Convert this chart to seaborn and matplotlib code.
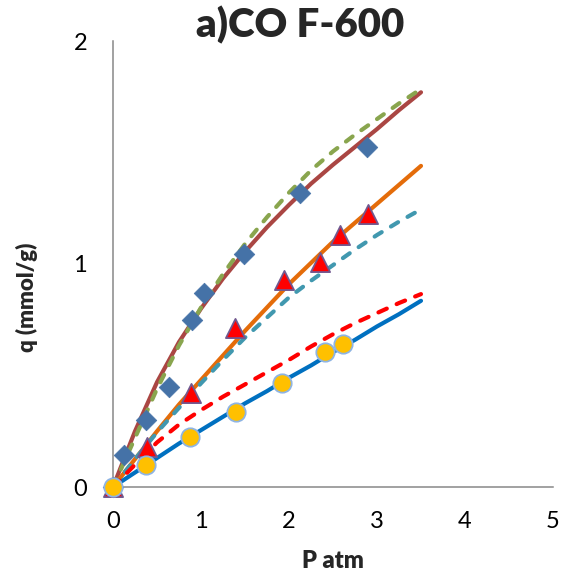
import matplotlib
matplotlib.use("Agg")
import matplotlib.pyplot as plt
import seaborn as sns

# Measured isotherm points (P in atm, q in mmol/g)
p_diamond = [0.0, 0.12, 0.37, 0.64, 0.90, 1.03, 1.49, 2.12, 2.89]
q_diamond = [0.0, 0.145, 0.30, 0.45, 0.75, 0.87, 1.045, 1.32, 1.525]

p_triangle = [0.0, 0.39, 0.89, 1.39, 1.94, 2.35, 2.58, 2.90]
q_triangle = [0.0, 0.18, 0.42, 0.715, 0.93, 1.01, 1.13, 1.225]

p_circle = [0.0, 0.375, 0.875, 1.40, 1.92, 2.41, 2.61]
q_circle = [0.0, 0.10, 0.225, 0.336, 0.466, 0.605, 0.641]

# Model curves
p_fit = [0.0, 0.25, 0.5, 0.75, 1.0, 1.25, 1.5, 1.75, 2.0, 2.25, 2.5, 2.75,
         3.0, 3.25, 3.5]
q_fit_brown = [0.0, 0.25, 0.47, 0.65, 0.80, 0.935, 1.055, 1.165, 1.265,
               1.36, 1.445, 1.525, 1.605, 1.69, 1.77]
q_fit_green = [0.0, 0.22, 0.44, 0.635, 0.805, 0.955, 1.09, 1.21, 1.32,
               1.42, 1.505, 1.58, 1.65, 1.72, 1.785]
q_fit_orange = [0.0, 0.125, 0.25, 0.37, 0.48, 0.59, 0.70, 0.805, 0.91,
                1.005, 1.10, 1.185, 1.27, 1.355, 1.44]
q_fit_teal = [0.0, 0.125, 0.245, 0.355, 0.465, 0.57, 0.67, 0.76, 0.85,
              0.925, 0.995, 1.065, 1.13, 1.19, 1.245]
q_fit_red = [0.0, 0.10, 0.20, 0.28, 0.345, 0.405, 0.46, 0.515, 0.57,
             0.63, 0.685, 0.735, 0.78, 0.825, 0.865]
q_fit_blue = [0.0, 0.065, 0.13, 0.195, 0.255, 0.315, 0.375, 0.43, 0.49,
              0.545, 0.605, 0.66, 0.72, 0.775, 0.835]

x_ticks = [0, 1, 2, 3, 4, 5]
y_ticks = [0, 1, 2]

sns.set_style("white")
plt.rcParams["font.family"] = ["Lato", "DejaVu Sans"]

fig = plt.figure(figsize=(5.63, 5.81), dpi=100)
ax = fig.add_axes([113 / 563, 94 / 581, 440 / 563, 446 / 581])

lw = 3.0
dash = (0, (2.0, 2.6))

sns.lineplot(x=p_fit, y=q_fit_brown, ax=ax, color="#AA4643", lw=lw,
             solid_capstyle="round", zorder=2)
sns.lineplot(x=p_fit, y=q_fit_green, ax=ax, color="#89A54E", lw=lw,
             linestyle=dash, dash_capstyle="round", zorder=2.1)
sns.lineplot(x=p_fit, y=q_fit_orange, ax=ax, color="#E46C0A", lw=lw,
             solid_capstyle="round", zorder=2)
sns.lineplot(x=p_fit, y=q_fit_teal, ax=ax, color="#4198AF", lw=lw,
             linestyle=dash, dash_capstyle="round", zorder=2.1)
sns.lineplot(x=p_fit, y=q_fit_blue, ax=ax, color="#0070C0", lw=lw,
             solid_capstyle="round", zorder=2)
sns.lineplot(x=p_fit, y=q_fit_red, ax=ax, color="#FF0000", lw=lw,
             linestyle=(0, (2.2, 2.6)), dash_capstyle="round", zorder=2.1)

sns.scatterplot(x=p_diamond, y=q_diamond, ax=ax, marker="D", s=110,
                color="#4572A7", edgecolor="#4572A7", linewidth=0.5,
                clip_on=False, zorder=3)
sns.scatterplot(x=p_triangle, y=q_triangle, ax=ax, marker="^", s=190,
                color="#FF0000", edgecolor="#71588F", linewidth=1.3,
                clip_on=False, zorder=3)
sns.scatterplot(x=p_circle, y=q_circle, ax=ax, marker="o", s=175,
                color="#FFC000", edgecolor="#8EB4E3", linewidth=1.3,
                clip_on=False, zorder=3.2)

ax.set_xlim(0, 5)
ax.set_ylim(0, 2)
ax.set_xticks(x_ticks)
ax.set_yticks(y_ticks)
ax.set_xticklabels([str(t) for t in x_ticks])
ax.set_yticklabels([str(t) for t in y_ticks])

for side in ("top", "right"):
    ax.spines[side].set_visible(False)
for side in ("left", "bottom"):
    ax.spines[side].set_color("#888888")
    ax.spines[side].set_linewidth(1.1)

ax.tick_params(axis="x", length=0, pad=17, labelsize=17, labelcolor="black")
ax.tick_params(axis="y", direction="inout", length=12.5, width=1.1,
               color="#888888", pad=12.3, labelsize=17, labelcolor="black")

ax.set_xlabel("P atm", fontsize=17, fontweight="heavy")
ax.xaxis.label.set_va("baseline")
ax.xaxis.set_label_coords(0.5, (487 - 568) / 446)

ax.set_ylabel("q (mmol/g)", fontsize=16, fontweight="heavy")
ax.yaxis.set_label_coords((38 - 113) / 440, (487 - 297) / 446)

ax.text((300 - 113) / 440, (487 - 37) / 446, "a)CO F-600",
        transform=ax.transAxes, ha="center", va="baseline",
        fontsize=29, fontweight="heavy")

fig.savefig("out.png", dpi=100)
